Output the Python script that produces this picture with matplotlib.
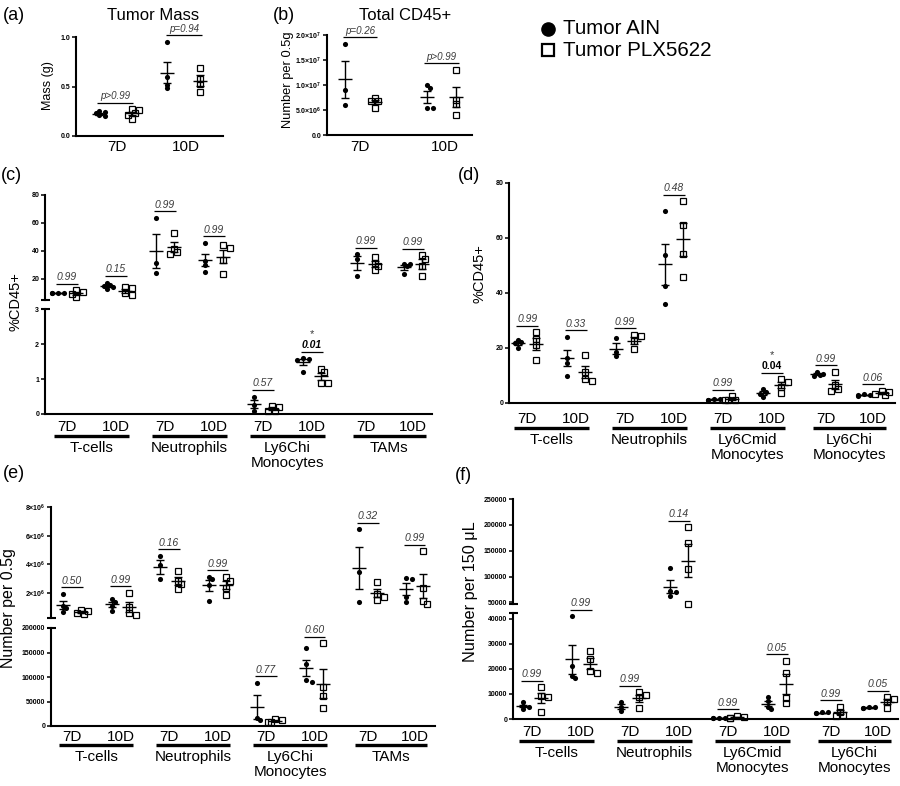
import numpy as np
import matplotlib
matplotlib.use('Agg')
import matplotlib.pyplot as plt
from matplotlib import transforms
from matplotlib.lines import Line2D

plt.rcParams['font.family'] = ['Liberation Sans', 'DejaVu Sans']
plt.rcParams['mathtext.fontset'] = 'custom'
plt.rcParams['mathtext.rm'] = 'Liberation Sans:bold'
plt.rcParams['mathtext.it'] = 'Liberation Sans:italic'

# ---------------- data ----------------
days = ['7D', '10D']

# (a) Tumor mass (g)
mass_ain = [[0.23, 0.21, 0.24, 0.25, 0.20], [0.95, 0.60, 0.52, 0.48]]
mass_plx = [[0.27, 0.26, 0.23, 0.21, 0.17], [0.69, 0.58, 0.53, 0.44]]
mass_p = ['p>0.99', 'p=0.94']

# (b) Total CD45+ per 0.5 g
cd45_ain = [[18.3e6, 9.1e6, 6.1e6], [10.1e6, 9.5e6, 5.5e6, 5.5e6]]
cd45_plx = [[7.5e6, 6.9e6, 6.8e6, 5.5e6], [13.1e6, 7.1e6, 6.2e6, 4.0e6]]
cd45_p = ['p=0.26', 'p>0.99']

groups_tumor = ['T-cells', 'Neutrophils', 'Ly6Chi\nMonocytes', 'TAMs']
groups_blood = ['T-cells', 'Neutrophils', 'Ly6Cmid\nMonocytes', 'Ly6Chi\nMonocytes']

# (c) tumor %CD45+
c_ain = [[10.0, 10.2, 9.9, 10.1], [17.5, 16.0, 15.0, 14.0, 13.2],
         [63.7, 31.4, 24.5], [46.0, 33.0, 30.0, 25.0],
         [0.5, 0.27, 0.1], [1.6, 1.57, 1.55, 1.2],
         [37.7, 34.6, 22.0], [30.5, 30.5, 29.0, 23.3]]
c_plx = [[11.8, 10.5, 9.5, 7.0], [14.2, 13.3, 10.0, 8.5],
         [53.0, 41.7, 39.3, 37.7], [44.0, 42.4, 33.4, 23.8],
         [0.22, 0.2, 0.1, 0.1], [1.3, 1.2, 0.9, 0.9],
         [35.7, 31.4, 29.0, 26.7], [37.0, 34.6, 29.0, 22.0]]
c_p = ['0.99', '0.15', '0.99', '0.99', '0.57', '0.01', '0.99', '0.99']

# (d) blood %CD45+
d_ain = [[23.0, 22.2, 21.8, 20.0], [24.0, 16.4, 14.7, 9.8],
         [23.8, 18.5, 17.0], [69.8, 53.7, 42.4, 35.9],
         [1.6, 1.4, 1.2, 1.0], [5.0, 4.0, 3.4, 2.2],
         [11.2, 10.7, 10.0, 9.7], [3.2, 3.0, 2.8, 2.6]]
d_plx = [[25.8, 23.2, 21.0, 15.5], [17.6, 11.3, 8.8, 7.9],
         [24.8, 24.2, 22.4, 19.5], [73.3, 64.8, 54.0, 45.8],
         [2.4, 1.2, 1.0, 1.0], [8.6, 7.6, 5.8, 3.6],
         [11.3, 6.5, 5.0, 4.2], [4.4, 4.0, 3.4, 2.8]]
d_p = ['0.99', '0.33', '0.99', '0.48', '0.99', '0.04', '0.99', '0.06']

# (e) tumor number per 0.5 g
e_ain = [[1.95e6, 1.1e6, 0.94e6, 0.64e6], [1.6e6, 1.38e6, 1.1e6, 0.76e6],
         [4.6e6, 3.98e6, 2.94e6], [3.13e6, 3.0e6, 2.53e6, 1.45e6],
         [87800, 17000, 11600], [160000, 127000, 93000, 90000],
         [6.44e6, 3.45e6, 1.38e6], [3.05e6, 3.0e6, 1.75e6, 1.38e6]]
e_plx = [[0.83e6, 0.76e6, 0.6e6, 0.53e6], [2.0e6, 1.0e6, 0.6e6, 0.46e6],
         [3.56e6, 2.83e6, 2.6e6, 2.25e6], [3.13e6, 2.83e6, 2.37e6, 1.84e6],
         [15000, 13000, 8000, 8000], [169000, 80000, 60500, 37400],
         [2.76e6, 1.9e6, 1.75e6, 1.52e6], [4.9e6, 2.37e6, 1.45e6, 1.22e6]]
e_p = ['0.50', '0.99', '0.16', '0.99', '0.77', '0.60', '0.32', '0.99']

# (f) blood number per 150 uL
f_ain = [[6700, 5300, 4900, 3900], [41000, 21000, 17200, 16300],
         [6900, 4700, 3300], [116900, 72000, 70000, 61700],
         [500, 450, 400, 350], [8700, 7300, 4700, 3900],
         [2700, 2600, 2400, 2300], [4900, 4700, 4400, 4300]]
f_plx = [[12700, 9300, 8700, 2700], [27000, 23900, 19300, 18300],
         [10700, 9600, 8700, 4300], [195000, 165600, 115600, 47400],
         [1200, 600, 450, 300], [23300, 18300, 8300, 6500],
         [4900, 2900, 1600, 1300], [8700, 8000, 6700, 4300]]
f_p = ['0.99', '0.99', '0.99', '0.14', '0.99', '0.05', '0.99', '0.05']

# ---------------- layout helpers ----------------
W, H = 900, 786
fig = plt.figure(figsize=(W / 100, H / 100), dpi=100)
PCOL = '#3a3a3a'


def fx(p):
    return p / W


def fy(p):
    return 1 - p / H


def new_ax(l, r, t, b, bottom=True):
    ax = fig.add_axes([fx(l), fy(b), (r - l) / W, (b - t) / H])
    for s in ('top', 'right'):
        ax.spines[s].set_visible(False)
    ax.spines['left'].set_linewidth(1.5)
    if bottom:
        ax.spines['bottom'].set_linewidth(1.5)
    else:
        ax.spines['bottom'].set_visible(False)
    ax.patch.set_alpha(0)
    ax.set_xticks([])
    ax.tick_params(axis='y', length=3, width=1.1, pad=1.2)
    return ax


def set_yt(ax, ticks, labels):
    ax.set_yticks(ticks)
    ax.set_yticklabels(labels, fontsize=5, fontweight='bold')


def ppu(ax):
    a = ax.transData.transform([(0, 0), (1, 1)])
    return a[1] - a[0]


def swarm(ax, vals, diam, step):
    ys = ax.transData.transform(np.column_stack([np.zeros(len(vals)), vals]))[:, 1]
    placed, offs = [], np.zeros(len(vals))
    for i in np.argsort(-np.asarray(vals)):
        xo = 0.0
        for k in (0, 1, -1, 2, -2):
            xo = k * step
            if all(np.hypot(xo - px, ys[i] - py) >= diam for px, py in placed):
                break
        placed.append((xo, ys[i]))
        offs[i] = xo
    return offs / ppu(ax)[0]


def draw_series(ax, x, vals, kind):
    vals = np.asarray(vals, float)
    pu = ppu(ax)[0]
    if kind == 'ain':
        offs = swarm(ax, vals, 3.5, 3.0)
        ax.plot(x + offs, vals, 'o', ms=3.7, color='k', mew=0, clip_on=False, zorder=3)
    else:
        offs = swarm(ax, vals, 4.5, 3.5)
        ax.plot(x + offs, vals, 's', ms=4.6, mfc='none', mec='k', mew=0.9,
                clip_on=False, zorder=3)
    m = vals.mean()
    se = vals.std(ddof=1) / np.sqrt(len(vals))
    hw, cw = 7.0 / pu, 4.0 / pu
    kw = dict(color='k', lw=1.0, clip_on=False, zorder=4, solid_capstyle='butt')
    ax.plot([x - hw, x + hw], [m, m], **kw)
    ax.plot([x, x], [m - se, m + se], **kw)
    ax.plot([x - cw, x + cw], [m + se, m + se], **kw)
    ax.plot([x - cw, x + cw], [m - se, m - se], **kw)


def p_label(ax, x0, x1, ymax, text, bold=False, italic=True, star=False, fs=7.5):
    tr = transforms.offset_copy(ax.transData, fig=fig, y=6.5, units='dots')
    ax.plot([x0, x1], [ymax, ymax], transform=tr, color='k', lw=0.9, clip_on=False,
            solid_capstyle='butt')
    tr2 = transforms.offset_copy(ax.transData, fig=fig, y=8, units='dots')
    ax.text((x0 + x1) / 2, ymax, text, transform=tr2, ha='center', va='bottom',
            fontsize=fs, style='italic' if italic else 'normal',
            weight='bold' if bold else 'normal', color='k' if bold else PCOL)
    if star:
        tr3 = transforms.offset_copy(ax.transData, fig=fig, y=19, units='dots')
        ax.text((x0 + x1) / 2, ymax, '*', transform=tr3, ha='center', va='bottom',
                fontsize=8, color=PCOL)


def break_caps(ax_up, ax_lo):
    for ax, yv in ((ax_up, 0), (ax_lo, 1)):
        x, y = ax.transAxes.transform((0, yv))
        fig.add_artist(Line2D([x - 4.5, x + 4.5], [y, y], transform=None,
                              color='k', lw=1.5, solid_capstyle='butt'))


def xlabels(ax, positions, groups, y_tick, y_line, y_name, halfw=0.26):
    tr = transforms.blended_transform_factory(ax.transData, fig.transFigure)
    for i, p in enumerate(positions):
        ax.text(p, fy(y_tick), days[i % 2], transform=tr, ha='center', va='center',
                fontsize=11, clip_on=False)
    for g, name in enumerate(groups):
        p0, p1 = positions[2 * g], positions[2 * g + 1]
        ax.plot([p0 - halfw, p1 + halfw], [fy(y_line)] * 2, transform=tr, color='k',
                lw=2.4, clip_on=False, solid_capstyle='butt')
        ax.text((p0 + p1) / 2, fy(y_name), name, transform=tr, ha='center', va='top',
                fontsize=11, linespacing=1.05, clip_on=False)


# ---------------- panel (a) ----------------
axa = new_ax(76, 223, 37, 136)
axa.set_xlim(-0.57, 1.57)
axa.set_ylim(0, 1.0)
set_yt(axa, [0, 0.5, 1.0], ['0.0', '0.5', '1.0'])
dxa = 0.24
for i in range(2):
    draw_series(axa, i - dxa, mass_ain[i], 'ain')
    draw_series(axa, i + dxa, mass_plx[i], 'plx')
    p_label(axa, i - dxa - 0.02, i + dxa + 0.02, max(mass_ain[i] + mass_plx[i]), mass_p[i], fs=7)
    fig.text(fx(115 + 69 * i + 2), fy(147), days[i], ha='center', va='center', fontsize=11)
fig.text(fx(48), fy(86), 'Mass (g)', rotation=90, ha='center', va='center', fontsize=9)
fig.text(fx(153), fy(15), 'Tumor Mass', ha='center', va='center', fontsize=12)
fig.text(fx(3), fy(15), '(a)', ha='left', va='center', fontsize=13)

# ---------------- panel (b) ----------------
axb = new_ax(327, 472, 35, 135)
axb.set_xlim(-0.4, 1.37)
axb.set_ylim(0, 2.0e7)
set_yt(axb, [0, 5e6, 1e7, 1.5e7, 2e7],
       ['0.0', r'5.0$\times$10$^6$', r'1.0$\times$10$^7$', r'1.5$\times$10$^7$',
        r'2.0$\times$10$^7$'])
dxb = 0.18
for i in range(2):
    draw_series(axb, i - dxb, cd45_ain[i], 'ain')
    draw_series(axb, i + dxb, cd45_plx[i], 'plx')
    p_label(axb, i - dxb - 0.03, i + dxb + 0.03, max(cd45_ain[i] + cd45_plx[i]), cd45_p[i], fs=7)
    fig.text(fx(360 + 85 * i), fy(147), days[i], ha='center', va='center', fontsize=11)
fig.text(fx(288), fy(80), 'Number per 0.5g', rotation=90, ha='center', va='center', fontsize=9.3)
fig.text(fx(405), fy(15), 'Total CD45+', ha='center', va='center', fontsize=12)
fig.text(fx(273), fy(15), '(b)', ha='left', va='center', fontsize=13)

# ---------------- legend ----------------
fig.add_artist(Line2D([fx(548)], [fy(29)], marker='o', ms=9.5, color='k', ls='none',
                      transform=fig.transFigure))
fig.add_artist(Line2D([fx(548)], [fy(50)], marker='s', ms=9, mfc='none', mec='k', mew=1.6,
                      ls='none', transform=fig.transFigure))
fig.text(fx(563), fy(29), 'Tumor AIN', ha='left', va='center', fontsize=14.8)
fig.text(fx(563), fy(50), 'Tumor PLX5622', ha='left', va='center', fontsize=14.8)

positions = [0, 1, 2, 3, 4, 5, 6.1, 7.06]
dx = 0.18


def multi_panel(axes, thresholds, ain, plx, pvals, bold_idx=None, bold_italic=True):
    for i, p in enumerate(positions):
        allv = ain[i] + plx[i]
        ax = axes[0]
        for a, th in zip(axes, thresholds):
            if np.mean(allv) > th:
                ax = a
                break
        draw_series(ax, p - dx, ain[i], 'ain')
        draw_series(ax, p + dx, plx[i], 'plx')
        isb = (i == bold_idx)
        p_label(ax, p - dx - 0.04, p + dx + 0.04, max(allv), pvals[i],
                bold=isb, italic=(bold_italic or not isb), star=isb)


# ---------------- panel (c) ----------------
axc_u = new_ax(45, 432, 195, 300, bottom=False)
axc_l = new_ax(45, 432, 309, 414)
for ax in (axc_u, axc_l):
    ax.set_xlim(-0.45, 7.45)
axc_u.set_ylim(5, 80)
axc_l.set_ylim(0, 3)
set_yt(axc_u, [20, 40, 60, 80], ['20', '40', '60', '80'])
set_yt(axc_l, [0, 1, 2, 3], ['0', '1', '2', '3'])
break_caps(axc_u, axc_l)
multi_panel([axc_u, axc_l], [3, -1], c_ain, c_plx, c_p, bold_idx=5, bold_italic=True)
xlabels(axc_l, positions, groups_tumor, 427, 436, 441)
fig.text(fx(16), fy(302), '%CD45+', rotation=90, ha='center', va='center', fontsize=10.5)
fig.text(fx(1), fy(175), '(c)', ha='left', va='center', fontsize=13)

# ---------------- panel (d) ----------------
axd = new_ax(509, 895, 183, 403)
axd.set_xlim(-0.37, 7.51)
axd.set_ylim(0, 80)
set_yt(axd, [0, 20, 40, 60, 80], ['0', '20', '40', '60', '80'])
multi_panel([axd], [-1], d_ain, d_plx, d_p, bold_idx=5, bold_italic=False)
xlabels(axd, positions, groups_blood, 419, 428, 433)
fig.text(fx(480), fy(274), '%CD45+', rotation=90, ha='center', va='center', fontsize=10.5)
fig.text(fx(458), fy(175), '(d)', ha='left', va='center', fontsize=13)

# ---------------- panel (e) ----------------
axe_u = new_ax(51, 435, 507, 618, bottom=False)
axe_l = new_ax(51, 435, 628, 726)
for ax in (axe_u, axe_l):
    ax.set_xlim(-0.43, 7.48)
axe_u.set_ylim(0.25e6, 8e6)
axe_l.set_ylim(0, 200000)
set_yt(axe_u, [2e6, 4e6, 6e6, 8e6],
       [r'2$\times$10$^6$', r'4$\times$10$^6$', r'6$\times$10$^6$', r'8$\times$10$^6$'])
set_yt(axe_l, [0, 50000, 100000, 150000, 200000],
       ['0', '50000', '100000', '150000', '200000'])
break_caps(axe_u, axe_l)
multi_panel([axe_u, axe_l], [250000, -1], e_ain, e_plx, e_p)
xlabels(axe_l, positions, groups_tumor, 737, 745, 750)
fig.text(fx(9), fy(608), 'Number per 0.5g', rotation=90, ha='center', va='center', fontsize=11.5)
fig.text(fx(3), fy(473), '(e)', ha='left', va='center', fontsize=13)

# ---------------- panel (f) ----------------
axf_u = new_ax(513, 898, 499, 604, bottom=False)
axf_l = new_ax(513, 898, 613, 719)
for ax in (axf_u, axf_l):
    ax.set_xlim(-0.39, 7.47)
axf_u.set_ylim(47000, 250000)
axf_l.set_ylim(0, 42300)
set_yt(axf_u, [50000, 100000, 150000, 200000, 250000],
       ['50000', '100000', '150000', '200000', '250000'])
set_yt(axf_l, [0, 10000, 20000, 30000, 40000],
       ['0', '10000', '20000', '30000', '40000'])
break_caps(axf_u, axf_l)
multi_panel([axf_u, axf_l], [42000, -1], f_ain, f_plx, f_p)
xlabels(axf_l, positions, groups_blood, 732, 741, 746)
fig.text(fx(470), fy(592), 'Number per 150 μL', rotation=90, ha='center', va='center', fontsize=11.7)
fig.text(fx(455), fy(475), '(f)', ha='left', va='center', fontsize=13)

fig.savefig('out.png', dpi=100)
